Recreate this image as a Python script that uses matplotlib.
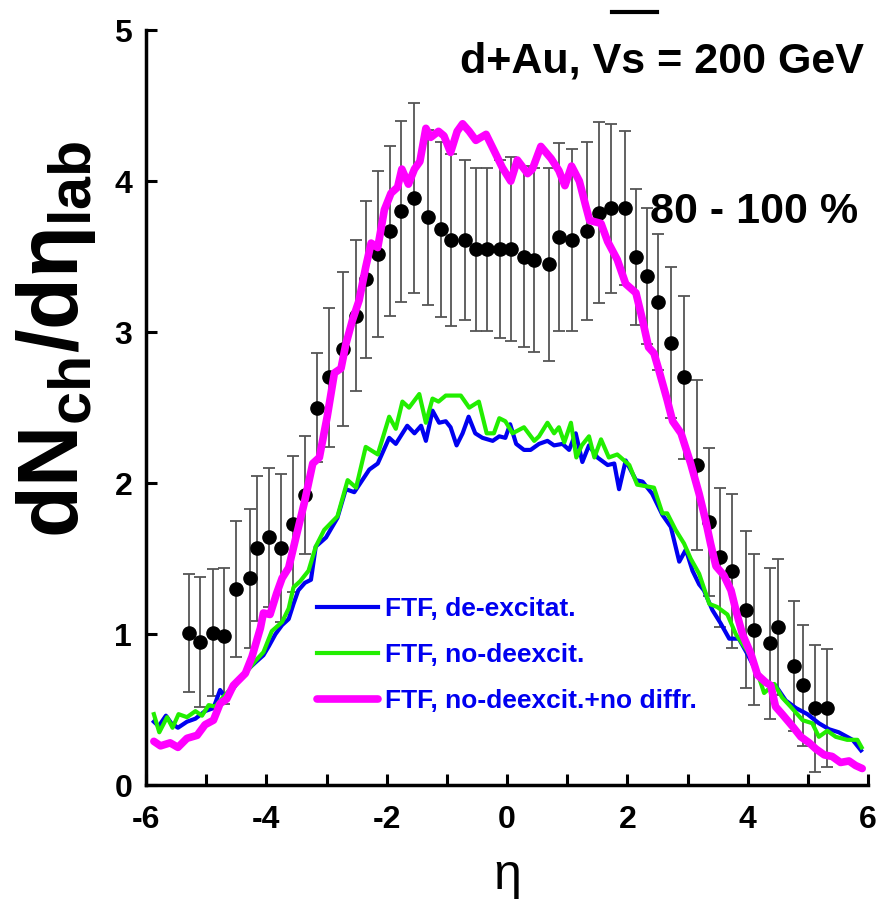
import numpy as np
import matplotlib
matplotlib.use('Agg')
import matplotlib.pyplot as plt
from matplotlib import font_manager
from matplotlib.ticker import MultipleLocator

# pick a condensed bold font if we have one
fam = 'Liberation Sans'
try:
    font_manager.findfont('Liberation Sans Narrow', fallback_to_default=False)
    fam = 'Liberation Sans Narrow'
except Exception:
    pass
plt.rcParams['font.family'] = [fam, 'DejaVu Sans']
plt.rcParams['axes.unicode_minus'] = False
plt.rcParams['mathtext.fontset'] = 'custom'
plt.rcParams['mathtext.rm'] = 'Liberation Sans:bold'
plt.rcParams['mathtext.bf'] = 'Liberation Sans:bold'
plt.rcParams['mathtext.it'] = 'Liberation Sans:bold'

# data points (dNch/deta, 80-100 %)
eta_data = [-5.28, -5.10, -4.89, -4.70, -4.51, -4.28, -4.15, -3.95, -3.75, -3.55,
            -3.36, -3.16, -2.96, -2.72, -2.51, -2.34, -2.14, -1.95, -1.76, -1.54,
            -1.31, -1.10, -0.94, -0.70, -0.51, -0.33, -0.12, 0.07, 0.28, 0.45,
            0.69, 0.86, 1.07, 1.32, 1.53, 1.72, 1.96, 2.14, 2.33, 2.51,
            2.72, 2.94, 3.15, 3.36, 3.54, 3.73, 3.97, 4.10, 4.36, 4.50,
            4.76, 4.92, 5.11, 5.32]
dn_data = [1.01, 0.95, 1.01, 0.99, 1.30, 1.37, 1.57, 1.64, 1.57, 1.73,
           1.92, 2.50, 2.70, 2.89, 3.11, 3.35, 3.52, 3.67, 3.80, 3.89,
           3.76, 3.68, 3.61, 3.61, 3.55, 3.55, 3.55, 3.55, 3.50, 3.48,
           3.45, 3.63, 3.61, 3.67, 3.79, 3.82, 3.82, 3.50, 3.37, 3.20,
           2.93, 2.70, 2.12, 1.74, 1.51, 1.42, 1.16, 1.03, 0.94, 1.05,
           0.79, 0.66, 0.51, 0.51]
dn_err = [0.39, 0.43, 0.42, 0.45, 0.45, 0.46, 0.48, 0.46, 0.49, 0.45,
          0.39, 0.36, 0.46, 0.51, 0.50, 0.52, 0.55, 0.56, 0.60, 0.63,
          0.58, 0.58, 0.57, 0.53, 0.54, 0.54, 0.59, 0.61, 0.60, 0.61,
          0.64, 0.62, 0.60, 0.59, 0.60, 0.56, 0.51, 0.45, 0.45, 0.45,
          0.50, 0.54, 0.56, 0.49, 0.46, 0.51, 0.52, 0.50, 0.50, 0.45,
          0.43, 0.40, 0.42, 0.39]

# FTF, de-excitat.
eta_blue = [-5.87, -5.79, -5.67, -5.58, -5.47, -5.32, -5.18, -5.02, -4.88, -4.77,
            -4.68, -4.55, -4.35, -4.19, -4.05, -3.96, -3.85, -3.74, -3.63, -3.55,
            -3.47, -3.36, -3.26, -3.18, -3.01, -2.82, -2.68, -2.54, -2.29, -2.15,
            -1.96, -1.85, -1.66, -1.54, -1.43, -1.35, -1.24, -1.13, -1.02, -0.94,
            -0.84, -0.74, -0.64, -0.53, -0.41, -0.24, -0.13, -0.03, 0.05, 0.15,
            0.28, 0.39, 0.53, 0.67, 0.78, 0.92, 1.03, 1.14, 1.25, 1.36,
            1.50, 1.67, 1.78, 1.86, 1.97, 2.14, 2.25, 2.41, 2.58, 2.72,
            2.86, 2.97, 3.08, 3.19, 3.27, 3.41, 3.55, 3.69, 3.85, 3.99,
            4.13, 4.30, 4.46, 4.63, 4.80, 4.99, 5.18, 5.35, 5.51, 5.74, 5.88]
dn_blue = [0.42, 0.39, 0.46, 0.41, 0.38, 0.42, 0.44, 0.49, 0.51, 0.63,
           0.58, 0.64, 0.75, 0.81, 0.86, 0.92, 1.00, 1.06, 1.10, 1.20,
           1.29, 1.34, 1.36, 1.58, 1.64, 1.77, 1.96, 1.94, 2.09, 2.13,
           2.30, 2.26, 2.38, 2.33, 2.38, 2.28, 2.48, 2.40, 2.41, 2.37,
           2.25, 2.33, 2.44, 2.33, 2.30, 2.28, 2.31, 2.30, 2.39, 2.26,
           2.22, 2.22, 2.26, 2.28, 2.25, 2.26, 2.22, 2.33, 2.14, 2.25,
           2.17, 2.12, 2.13, 1.96, 2.15, 2.02, 2.01, 1.93, 1.79, 1.71,
           1.48, 1.56, 1.42, 1.33, 1.29, 1.16, 1.07, 0.97, 0.97, 0.87,
           0.76, 0.68, 0.66, 0.56, 0.51, 0.47, 0.41, 0.37, 0.35, 0.30, 0.23]

# FTF, no-deexcit.
eta_green = [-5.87, -5.78, -5.65, -5.56, -5.46, -5.32, -5.18, -5.07, -4.96, -4.85,
             -4.68, -4.52, -4.35, -4.19, -4.05, -3.91, -3.74, -3.63, -3.55, -3.44,
             -3.30, -3.18, -3.04, -2.82, -2.65, -2.51, -2.35, -2.15, -1.96, -1.85,
             -1.74, -1.63, -1.46, -1.35, -1.24, -1.14, -1.02, -0.77, -0.63, -0.47,
             -0.34, -0.22, -0.13, -0.03, 0.09, 0.28, 0.45, 0.53, 0.67, 0.78,
             0.86, 0.95, 1.06, 1.15, 1.24, 1.36, 1.45, 1.56, 1.69, 1.83,
             2.03, 2.16, 2.30, 2.44, 2.58, 2.66, 2.80, 2.94, 3.05, 3.19,
             3.36, 3.49, 3.66, 3.80, 3.99, 4.13, 4.27, 4.44, 4.57, 4.71,
             4.91, 5.07, 5.18, 5.32, 5.46, 5.65, 5.82, 5.89]
dn_green = [0.47, 0.35, 0.45, 0.38, 0.47, 0.45, 0.49, 0.46, 0.53, 0.52,
            0.60, 0.67, 0.74, 0.82, 0.88, 1.02, 1.08, 1.17, 1.31, 1.35,
            1.42, 1.58, 1.69, 1.78, 2.02, 1.97, 2.24, 2.19, 2.44, 2.36,
            2.54, 2.50, 2.59, 2.40, 2.56, 2.54, 2.58, 2.58, 2.50, 2.54,
            2.33, 2.33, 2.43, 2.41, 2.33, 2.37, 2.28, 2.31, 2.40, 2.33,
            2.37, 2.27, 2.40, 2.17, 2.25, 2.31, 2.17, 2.29, 2.17, 2.19,
            2.12, 1.99, 1.98, 1.97, 1.80, 1.80, 1.69, 1.60, 1.50, 1.40,
            1.20, 1.18, 1.13, 1.00, 0.89, 0.78, 0.61, 0.67, 0.58, 0.52,
            0.43, 0.41, 0.32, 0.36, 0.32, 0.30, 0.30, 0.25]

# FTF, no-deexcit.+no diffr.
eta_mag = [-5.87, -5.76, -5.60, -5.47, -5.32, -5.15, -5.02, -4.88, -4.77, -4.66,
           -4.55, -4.35, -4.24, -4.10, -4.05, -3.94, -3.83, -3.74, -3.63, -3.51,
           -3.37, -3.23, -3.12, -2.99, -2.87, -2.76, -2.68, -2.57, -2.46, -2.35,
           -2.26, -2.15, -2.04, -1.93, -1.82, -1.75, -1.64, -1.54, -1.45, -1.35,
           -1.27, -1.14, -1.05, -0.94, -0.83, -0.74, -0.63, -0.52, -0.35, -0.19,
           -0.08, 0.06, 0.17, 0.34, 0.42, 0.56, 0.73, 0.86, 0.96, 1.07,
           1.20, 1.31, 1.37, 1.56, 1.67, 1.83, 1.97, 2.14, 2.25, 2.35,
           2.44, 2.52, 2.66, 2.75, 2.89, 3.05, 3.19, 3.30, 3.38, 3.47,
           3.60, 3.72, 3.80, 3.91, 4.05, 4.16, 4.30, 4.38, 4.46, 4.57,
           4.74, 4.88, 5.02, 5.13, 5.27, 5.40, 5.54, 5.68, 5.79, 5.90]
dn_mag = [0.29, 0.26, 0.28, 0.25, 0.31, 0.33, 0.40, 0.43, 0.54, 0.57,
          0.66, 0.74, 0.85, 1.04, 1.14, 1.13, 1.27, 1.37, 1.44, 1.64,
          1.87, 2.13, 2.17, 2.44, 2.73, 2.76, 2.92, 3.08, 3.21, 3.43,
          3.59, 3.56, 3.81, 3.92, 3.96, 4.08, 3.98, 4.08, 4.13, 4.35,
          4.29, 4.33, 4.30, 4.19, 4.33, 4.38, 4.33, 4.27, 4.31, 4.18,
          4.09, 4.00, 4.14, 4.05, 4.08, 4.23, 4.15, 4.07, 3.97, 4.10,
          4.00, 3.83, 3.74, 3.72, 3.60, 3.48, 3.32, 3.26, 3.08, 2.90,
          2.86, 2.75, 2.55, 2.41, 2.33, 2.13, 1.93, 1.75, 1.60, 1.45,
          1.39, 1.29, 1.16, 1.00, 0.87, 0.73, 0.68, 0.66, 0.52, 0.47,
          0.39, 0.32, 0.28, 0.24, 0.20, 0.19, 0.15, 0.16, 0.13, 0.11]

labels = ['FTF, de-excitat.', 'FTF, no-deexcit.', 'FTF, no-deexcit.+no diffr.']

fig = plt.figure(figsize=(8.96, 9.14), dpi=100)
ax = fig.add_axes([0.163, 0.141, 0.806, 0.826])

ax.errorbar(eta_data, dn_data, yerr=dn_err, fmt='none', ecolor='#555555',
            elinewidth=1.3, capsize=4.5, capthick=1.3, zorder=2)
ax.plot(eta_data, dn_data, 'o', color='black', markersize=9.5, zorder=3)

ax.plot(eta_blue, dn_blue, color='#0000f0', lw=3, label=labels[0], zorder=4)
ax.plot(eta_green, dn_green, color='#22ee00', lw=3, label=labels[1], zorder=5)
ax.plot(eta_mag, dn_mag, color='#ff00ff', lw=5.5, label=labels[2], zorder=6,
        solid_capstyle='round')

ax.set_xlim(-6, 6)
ax.set_ylim(0, 5)
ax.xaxis.set_major_locator(MultipleLocator(2))
ax.xaxis.set_minor_locator(MultipleLocator(1))
ax.yaxis.set_major_locator(MultipleLocator(1))
for s in ['top', 'right']:
    ax.spines[s].set_visible(False)
for s in ['left', 'bottom']:
    ax.spines[s].set_linewidth(2.5)
ax.tick_params(which='both', direction='in', length=8, width=2.2)
ax.tick_params(axis='x', which='major', pad=14)
ax.tick_params(axis='y', which='major', pad=10)
for lab in ax.get_xticklabels() + ax.get_yticklabels():
    lab.set_fontsize(23)
    lab.set_fontweight('bold')

ax.set_xlabel('η', fontsize=36)
ax.xaxis.set_label_coords(0.5, -0.09)
ax.set_ylabel(r'$\mathbf{dN}_{\mathbf{ch}}\mathbf{/d}\eta_{\mathbf{lab}}$', fontsize=61)
ax.yaxis.set_label_coords(-0.066, 0.59)

leg = ax.legend(loc='upper left', bbox_to_anchor=(0.204, 0.28), frameon=False,
                handlelength=2.3, handletextpad=0.27, labelspacing=0.82,
                prop={'weight': 'bold', 'size': 19}, labelcolor='#0000f0')

ax.text(0.994, 0.944, 'd+Au, Vs = 200 GeV', transform=ax.transAxes,
        ha='right', va='baseline', fontsize=31, fontweight='bold')
ax.plot([0.645, 0.708], [1.024, 1.024], color='black', lw=3,
        transform=ax.transAxes, clip_on=False)
ax.text(0.698, 0.744, '80 - 100 %', transform=ax.transAxes,
        ha='left', va='baseline', fontsize=31, fontweight='bold')

fig.savefig('out.png', dpi=100)
